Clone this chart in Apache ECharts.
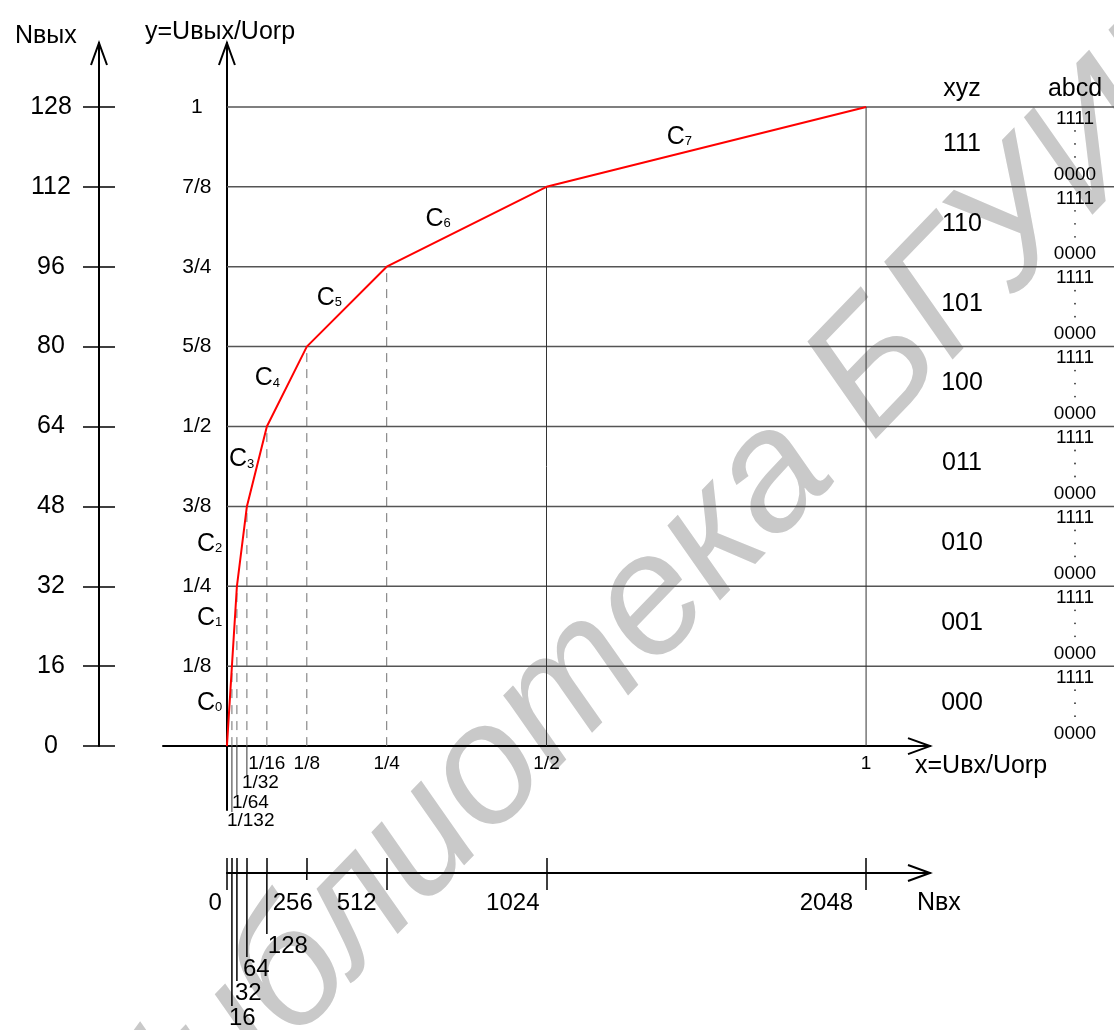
<!DOCTYPE html>
<html><head><meta charset="utf-8">
<script src="https://cdn.jsdelivr.net/npm/echarts@6/dist/echarts.min.js"></script>
<style>html,body{margin:0;padding:0;background:#fff}#c{width:1114px;height:1030px}</style>
</head><body><div id="c"></div>
<script>
// ---------------- data ----------------
const breakX = [0, 1/128, 1/64, 1/32, 1/16, 1/8, 1/4, 1/2, 1];
const breakY = [0, 1/8, 2/8, 3/8, 4/8, 5/8, 6/8, 7/8, 1];
const segmentSubs = ['0','1','2','3','4','5','6','7'];
const yTickValues = [1/8, 2/8, 3/8, 4/8, 5/8, 6/8, 7/8, 1];
const yTickLabels = ['1/8','1/4','3/8','1/2','5/8','3/4','7/8','1'];
const xTickValues = [1/16, 1/8, 1/4, 1/2, 1];
const xTickLabels = ['1/16','1/8','1/4','1/2','1'];
const xSmallValues = [1/32, 1/64, 1/128];
const xSmallLabels = ['1/32','1/64','1/132'];
const nOutTicks = [0, 16, 32, 48, 64, 80, 96, 112, 128];
const nOutMax = 128;
const nInTicks = [0, 16, 32, 64, 128, 256, 512, 1024, 2048];
const nInLong = [0, 512, 1024, 2048];
const nInRowValues = [0, 256, 512, 1024, 2048];
const nInStackValues = [128, 64, 32, 16];
const nInMax = 2048;
const xyzCodes = ['000','001','010','011','100','101','110','111'];
const abcdTop = '1111', abcdBottom = '0000';

// ---------------- layout ----------------
const FONT = '"Liberation Sans", Arial, sans-serif';
const AX_MIN = -0.1, AX_MAX = 1.1;
const G = {left: 163, top: 43, size: 767};
const PX_PER_UNIT = G.size / (AX_MAX - AX_MIN);
const zeroOff = PX_PER_UNIT * (0 - AX_MIN);
const posLen = PX_PER_UNIT * AX_MAX;
const CHART_W = 1114;
const gridLineMax = (CHART_W - (G.left + zeroOff)) / PX_PER_UNIT;

function lab(v, vals, labs) {
  for (let i = 0; i < vals.length; i++) if (Math.abs(vals[i] - v) < 1e-9) return labs[i];
  return '';
}

const chart = echarts.init(document.getElementById('c'));

const series = [];
// horizontal grid lines (own overlay grid that reaches the right edge)
yTickValues.forEach(v => series.push({
  type: 'line', xAxisIndex: 4, yAxisIndex: 4, data: [[0, v], [gridLineMax, v]],
  symbol: 'none', silent: true, z: 1,
  lineStyle: {color: '#555', width: 1.5}
}));
// vertical drop lines from break points
for (let i = 1; i < breakX.length; i++) {
  const solid = breakX[i] >= 0.5;
  series.push({
    type: 'line', xAxisIndex: 0, yAxisIndex: 0, data: [[breakX[i], 0], [breakX[i], breakY[i]]],
    symbol: 'none', silent: true, z: 1,
    lineStyle: solid ? {color: '#333', width: 1} : {color: '#707070', width: 1, type: [9, 7]}
  });
}
// companding curve
series.push({
  type: 'line', xAxisIndex: 0, yAxisIndex: 0, data: breakX.map((x, i) => [x, breakY[i]]),
  symbol: 'none', silent: true, z: 5,
  lineStyle: {color: '#ff0000', width: 2}
});

chart.setOption({
  animation: false,
  backgroundColor: '#fff',
  grid: [
    {left: G.left, top: G.top, width: G.size, height: G.size},
    {left: 99, top: G.top, width: 10, height: posLen},
    {left: G.left + zeroOff, top: 863, width: posLen, height: 10},
    {left: G.left + zeroOff, top: G.top, width: CHART_W - (G.left + zeroOff), height: G.size}
  ],
  xAxis: [
    {type: 'value', gridIndex: 0, min: AX_MIN, max: AX_MAX, position: 'bottom', offset: -zeroOff,
     axisLine: {show: true, onZero: false, lineStyle: {color: '#000', width: 2}},
     axisTick: {show: false}, splitLine: {show: false},
     axisLabel: {customValues: xTickValues, formatter: v => lab(v, xTickValues, xTickLabels),
       fontSize: 19, fontFamily: FONT, color: '#000', margin: 8}},
    {type: 'value', gridIndex: 1, min: 0, max: 1, show: false},
    {type: 'value', gridIndex: 2, min: 0, max: nInMax * AX_MAX, position: 'bottom',
     axisLine: {show: true, onZero: false, lineStyle: {color: '#000', width: 2}},
     axisTick: {show: true, inside: true, length: 15, customValues: nInTicks, lineStyle: {color: '#000', width: 1.5}},
     axisLabel: {show: false}, splitLine: {show: false}},
    {type: 'value', gridIndex: 2, min: 0, max: nInMax * AX_MAX, position: 'bottom',
     axisLine: {show: false, onZero: false},
     axisTick: {show: true, inside: false, length: 17, customValues: nInLong, lineStyle: {color: '#000', width: 1.5}},
     axisLabel: {show: false}, splitLine: {show: false}},
    {type: 'value', gridIndex: 3, min: 0, max: gridLineMax, show: false}
  ],
  yAxis: [
    {type: 'value', gridIndex: 0, min: AX_MIN, max: AX_MAX, position: 'left', offset: -zeroOff,
     axisLine: {show: true, onZero: false, lineStyle: {color: '#000', width: 2}},
     axisTick: {show: false}, splitLine: {show: false},
     axisLabel: {customValues: yTickValues, formatter: v => lab(v, yTickValues, yTickLabels),
       fontSize: 21, fontFamily: FONT, color: '#000', margin: 30, align: 'center'}},
    {type: 'value', gridIndex: 1, min: 0, max: nOutMax * AX_MAX, position: 'left',
     axisLine: {show: true, onZero: false, lineStyle: {color: '#000', width: 2}},
     axisTick: {show: true, inside: false, length: 16, customValues: nOutTicks, lineStyle: {color: '#000', width: 1.5}},
     axisLabel: {customValues: nOutTicks, fontSize: 25, fontFamily: FONT, color: '#000', margin: 48,
       align: 'center', verticalAlign: 'middle', padding: [0, 0, 34, 0]},
     splitLine: {show: false}},
    {type: 'value', gridIndex: 1, min: 0, max: nOutMax * AX_MAX, position: 'left',
     axisLine: {show: false, onZero: false},
     axisTick: {show: true, inside: true, length: 16, customValues: nOutTicks, lineStyle: {color: '#000', width: 1.5}},
     axisLabel: {show: false}, splitLine: {show: false}},
    {type: 'value', gridIndex: 2, min: 0, max: 1, show: false},
    {type: 'value', gridIndex: 3, min: AX_MIN, max: AX_MAX, show: false}
  ],
  series: series
});

function T(x, y, s, size, align, extra) {
  const st = Object.assign({text: s, fill: '#000', font: size + 'px ' + FONT,
    align: align || 'left', textAlign: align || 'left', verticalAlign: 'middle', textVerticalAlign: 'middle'}, extra || {});
  return {type: 'text', x: x, y: y, silent: true, z: 10, style: st};
}
function L(x1, y1, x2, y2, color, w) {
  return {type: 'line', silent: true, z: 10, shape: {x1, y1, x2, y2}, style: {stroke: color || '#000', lineWidth: w || 1.5}};
}
function arrowRight(x, y) {
  return {type: 'polyline', silent: true, z: 10, shape: {points: [[x - 22, y - 8], [x, y], [x - 22, y + 8]]},
    style: {stroke: '#000', lineWidth: 2, fill: 'none'}};
}
function arrowUp(x, y) {
  return {type: 'polyline', silent: true, z: 10, shape: {points: [[x - 8, y + 22], [x, y], [x + 8, y + 22]]},
    style: {stroke: '#000', lineWidth: 2, fill: 'none'}};
}

function build() {
  const g = [];
  const P = (x, y) => chart.convertToPixel({xAxisIndex: 0, yAxisIndex: 0}, [x, y]);
  const PB = (v, y) => chart.convertToPixel({xAxisIndex: 2, yAxisIndex: 3}, [v, y]);
  const PL = (v) => chart.convertToPixel({xAxisIndex: 1, yAxisIndex: 1}, [0, v]);

  // watermark
  g.push({type: 'text', x: 672, y: 582, rotation: 46 * Math.PI / 180, z: -5, silent: true,
    style: {text: 'библиотека БГУИР', fill: '#c9c9c9', font: 'italic 170px ' + FONT,
      align: 'center', textAlign: 'center', verticalAlign: 'middle', textVerticalAlign: 'middle'}});

  // arrows
  const yTop = P(0, AX_MAX); g.push(arrowUp(yTop[0], yTop[1]));
  const xEnd = P(AX_MAX, 0); g.push(arrowRight(xEnd[0], xEnd[1]));
  const nTop = PL(nOutMax * AX_MAX); g.push(arrowUp(nTop[0], nTop[1]));
  const bEnd = PB(nInMax * AX_MAX, 0); g.push(arrowRight(bEnd[0], bEnd[1]));

  // axis titles
  g.push(T(15, 36, 'Nвых', 25));
  g.push(T(145, 32, 'y=Uвых/Uorp', 25));
  g.push(T(xEnd[0] - 15, xEnd[1] + 20, 'x=Uвх/Uorp', 25));
  g.push(T(bEnd[0] - 13, bEnd[1] + 30, 'Nвх', 25));

  // staggered small fraction labels under main x axis
  const smallEnds = [775, 795, 812];
  const smallY = [783, 803, 821];
  xSmallValues.forEach((v, i) => {
    const p = P(v, 0);
    g.push(L(p[0], p[1], p[0], smallEnds[i], '#333', 1));
    g.push(T(p[0] - 5, smallY[i], xSmallLabels[i], 19));
  });

  // Nвх labels in a row
  const rowDx = {0: -5, 256: 6, 512: -10, 1024: -7, 2048: -13};
  nInRowValues.forEach(v => {
    const p = PB(v, 0);
    g.push(T(p[0] + rowDx[v], p[1] + 30, String(v), 24, 'right'));
  });
  const p256 = PB(256, 0); g.push(L(p256[0], p256[1], p256[0], p256[1] + 7));
  const stackEnd = {128: 934, 64: 957, 32: 981, 16: 1006};
  const stackDx = {128: 1, 64: -4, 32: -2, 16: -3};
  nInStackValues.forEach(v => {
    const p = PB(v, 0);
    g.push(L(p[0], p[1], p[0], stackEnd[v]));
    g.push(T(p[0] + stackDx[v], stackEnd[v] + 12, String(v), 24));
  });

  // segment labels C0..C7
  const cOff = [[-32.5, -3], [-37.5, -8], [-45, -2], [-28, -7], [-32, -8], [-30, -9], [-41, -8], [-39.5, -9.5]];
  for (let i = 0; i < segmentSubs.length; i++) {
    const a = P(breakX[i], breakY[i]), b = P(breakX[i + 1], breakY[i + 1]);
    const mx = (a[0] + b[0]) / 2, my = (a[1] + b[1]) / 2;
    const lx = mx + cOff[i][0], cy = my + cOff[i][1];
    g.push(T(lx, cy, 'C', 25));
    g.push(T(lx + 18, cy + 4.5, segmentSubs[i], 13));
  }

  // code columns
  g.push(T(962, 89, 'xyz', 25, 'center'));
  g.push(T(1075, 89, 'abcd', 25, 'center'));
  for (let k = 0; k < xyzCodes.length; k++) {
    const top = P(0, (k + 1) / 8)[1], bot = P(0, k / 8)[1];
    g.push(T(962, (top + bot) / 2 - 3, xyzCodes[k], 25, 'center'));
    g.push(T(1075, top + 11.5, abcdTop, 19, 'center'));
    [24, 37, 50].forEach(d => g.push({type: 'circle', silent: true, z: 10,
      shape: {cx: 1075, cy: top + d, r: 0.9}, style: {fill: '#333'}}));
    g.push(T(1075, bot - 12.5, abcdBottom, 19, 'center'));
  }
  chart.setOption({graphic: {elements: g}});
}
build();
</script></body></html>
